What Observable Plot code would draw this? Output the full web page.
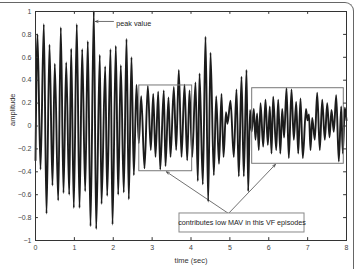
<!DOCTYPE html>
<html>
<head>
<meta charset="utf-8">
<script src="https://cdn.jsdelivr.net/npm/d3@7"></script>
<script src="https://cdn.jsdelivr.net/npm/@observablehq/plot@0.6"></script>
<style>
  html, body { margin: 0; padding: 0; background: #fff; }
  #wrap { position: relative; width: 357px; height: 269px; overflow: hidden; }
  #edge { position: absolute; left: 0; top: 2px; width: 354px; height: 300px;
          border-top: 1px solid #666; border-right: 1px solid #666; border-top-right-radius: 9px; box-sizing: border-box; }
  #chart { position: absolute; left: 0; top: 0; }
</style>
</head>
<body>
<div id="wrap"><div id="edge"></div><div id="chart"></div></div>
<script>
// Extrema of the signal (time in sec, amplitude)
const times = [0, 0.051, 0.129, 0.214, 0.283, 0.360, 0.437, 0.496, 0.584, 0.651, 0.720, 0.790, 0.867, 0.918, 0.985,
  1.062, 1.132, 1.201, 1.278, 1.345, 1.415, 1.500, 1.561, 1.654, 1.698, 1.793, 1.844, 1.929, 1.981,
  2.066, 2.127, 2.194, 2.271, 2.341, 2.400, 2.469, 2.529, 2.598, 2.657, 2.719, 2.804, 2.889, 2.966,
  3.028, 3.087, 3.156, 3.208, 3.300, 3.344, 3.421, 3.473, 3.558, 3.619, 3.686, 3.756, 3.833, 3.902, 3.961,
  4.031, 4.116, 4.175, 4.219, 4.304, 4.373, 4.442, 4.502, 4.587, 4.648, 4.720, 4.785, 4.836, 4.900, 4.939,
  5.016, 5.101, 5.170, 5.230, 5.299, 5.358, 5.428, 5.471, 5.518, 5.561, 5.615, 5.659, 5.700, 5.744, 5.788, 5.857, 5.916, 5.976,
  6.027, 6.071, 6.114, 6.192, 6.243, 6.297, 6.346, 6.395, 6.457, 6.516, 6.585, 6.644, 6.706, 6.758, 6.817, 6.876, 6.958, 6.997,
  7.035, 7.074, 7.118, 7.185, 7.246, 7.313, 7.375, 7.442, 7.504, 7.563, 7.614, 7.673, 7.735, 7.802, 7.864, 7.905, 7.956, 8.0];
const amps = [-0.30, 0.80, -0.38, 0.89, -0.765, 0.71, -0.52, 0.545, -0.65, 0.86, -0.585, 0.556, -0.60, 0.675, -0.715,
  0.89, -0.715, 0.67, -0.57, 0.74, -0.875, 1.0, -0.90, 0.62, -0.68, 0.52, -0.61, 0.67, -0.86,
  0.70, -0.60, 0.53, -0.58, 0.76, -0.64, 0.60, -0.43, 0.36, -0.15, 0.26, -0.37, 0.35, -0.21,
  0.28, -0.27, 0.30, -0.38, 0.31, -0.35, 0.25, -0.27, 0.34, -0.21, 0.49, -0.27, 0.36, -0.30, 0.31,
  -0.27, 0.38, -0.48, 0.46, -0.51, 0.78, -0.66, 0.64, -0.43, 0.26, -0.33, 0.28, -0.27, 0.12, 0.02,
  0.22, -0.27, 0.32, -0.44, 0.43, -0.44, 0.49, -0.57, 0.14, -0.05, 0.15, -0.12, 0.11, -0.21, 0.20, -0.18, 0.23, -0.165,
  0.17, -0.24, 0.255, -0.21, 0.23, -0.24, 0.15, -0.10, 0.33, -0.28, 0.32, -0.12, 0.21, -0.24, 0.24, -0.28, 0.15, 0.05,
  0.10, -0.21, 0.07, -0.12, 0.29, -0.21, 0.23, -0.12, 0.20, -0.10, 0.14, -0.05, 0.27, -0.31, 0.17, -0.24, 0.16, 0.05];

const xTicks = [0, 1, 2, 3, 4, 5, 6, 7, 8];
const yTicks = [-1, -0.8, -0.6, -0.4, -0.2, 0, 0.2, 0.4, 0.6, 0.8, 1];

// Annotation content
const peakLabel = ["peak value"];
const peakArrow = [{x1: 2.006, y1: 0.913, x2: 1.543, y2: 0.913}];
const boxes = [{x1: 2.67, x2: 4.03, y1: -0.395, y2: 0.354}, {x1: 5.574, x2: 7.93, y1: -0.33, y2: 0.33}];
const noteBox = [{x1: 3.704, x2: 6.92, y1: -0.93, y2: -0.764}];
const noteText = ["contributes low MAV in this VF episodes"];
const noteArrows = [{x1: 4.965, y1: -0.764, x2: 3.37, y2: -0.40}, {x1: 4.965, y1: -0.764, x2: 6.17, y2: -0.336}];

const signal = times.map((t, i) => ({t, a: amps[i]}));
const fmt = d => { const v = Math.round(d * 10) / 10; return (v < 0 ? "\u2212" : "") + String(Math.abs(v)); };

const tx = 0.075, ty = 0.025;
const plot = Plot.plot({
  width: 357,
  height: 269,
  marginLeft: 35,
  marginRight: 11,
  marginTop: 11,
  marginBottom: 29,
  style: {fontFamily: "'Liberation Sans', Arial, sans-serif", fontSize: "7px", color: "#333", background: "transparent"},
  x: {domain: [0, 8]},
  y: {domain: [-1, 1]},
  marks: [
    Plot.line(signal, {x: "t", y: "a", stroke: "#1c1c1c", strokeWidth: 1.9, curve: "monotone-x"}),
    Plot.rect(boxes, {x1: "x1", x2: "x2", y1: "y1", y2: "y2", fill: "none", stroke: "#777", strokeWidth: 1}),
    Plot.arrow(noteArrows, {x1: "x1", y1: "y1", x2: "x2", y2: "y2", stroke: "#333", strokeWidth: 0.7, headLength: 6, headAngle: 45}),
    Plot.rect(noteBox, {x1: "x1", x2: "x2", y1: "y1", y2: "y2", fill: "white", stroke: "#888", strokeWidth: 1}),
    Plot.text(noteText, {x: 5.312, y: -0.847, text: d => d, fontSize: 7.2, fill: "#222"}),
    Plot.arrow(peakArrow, {x1: "x1", y1: "y1", x2: "x2", y2: "y2", stroke: "#333", strokeWidth: 0.7, headLength: 6, headAngle: 45}),
    Plot.text(peakLabel, {x: 2.08, y: 0.895, text: d => d, textAnchor: "start", fontSize: 7.2, fill: "#222"}),
    Plot.frame({stroke: "#333", strokeWidth: 1}),
    Plot.ruleX(xTicks, {x: d => d, y1: -1, y2: -1 + ty, stroke: "#333"}),
    Plot.ruleX(xTicks, {x: d => d, y1: 1, y2: 1 - ty, stroke: "#333"}),
    Plot.ruleY(yTicks, {y: d => d, x1: 0, x2: tx, stroke: "#333"}),
    Plot.ruleY(yTicks, {y: d => d, x1: 8, x2: 8 - tx, stroke: "#333"}),
    Plot.axisX(xTicks, {anchor: "bottom", tickSize: 0, tickPadding: 5, label: null, tickFormat: fmt, fill: "#444"}),
    Plot.axisY(yTicks, {anchor: "left", tickSize: 0, tickPadding: 4, label: null, tickFormat: fmt, fill: "#444"}),
    Plot.text(["time (sec)"], {frameAnchor: "bottom", dy: 22, text: d => d, fontSize: 7.5, fill: "#333"}),
    Plot.text(["amplitude"], {frameAnchor: "left", dx: -23, rotate: -90, text: d => d, fontSize: 7.5, fill: "#333"})
  ]
});
document.getElementById("chart").appendChild(plot);
</script>
</body>
</html>
